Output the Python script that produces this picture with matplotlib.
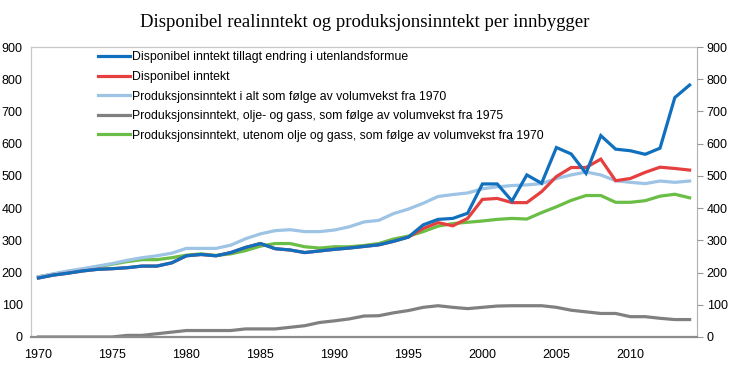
import matplotlib.pyplot as plt
import numpy as np

# years on the x axis
years = list(range(1970, 2015))

# Disponibel inntekt
disp = [183, 192, 198, 205, 210, 212, 215, 220, 220, 230,
        252, 256, 252, 262, 278, 290, 274, 270, 262, 267,
        272, 276, 281, 286, 297, 310, 337, 355, 345, 368,
        427, 430, 417, 417, 451, 498, 526, 526, 552, 485,
        492, 511, 527, 523, 518]

# Disponibel inntekt tillagt endring i utenlandsformue (same as red before 1996)
disp_utl = disp[:26] + [348, 365, 368, 384,
                        475, 475, 422, 503, 477, 588, 568, 508, 625, 583,
                        578, 567, 586, 743, 782]

# Produksjonsinntekt i alt
prod_total = [187, 196, 205, 212, 220, 228, 238, 246, 252, 260,
              275, 275, 275, 285, 305, 320, 330, 333, 327, 327,
              332, 342, 357, 362, 383, 397, 415, 436, 442, 447,
              460, 466, 470, 472, 476, 492, 503, 512, 503, 485,
              480, 476, 484, 480, 484]

# Produksjonsinntekt, olje og gass
prod_olje = [0, 0, 0, 0, 0, 0, 5, 5, 10, 15,
             20, 20, 20, 20, 25, 25, 25, 30, 35, 45,
             50, 56, 65, 66, 75, 82, 92, 97, 92, 88,
             92, 96, 97, 97, 97, 92, 83, 78, 73, 73,
             63, 63, 58, 54, 54]

# Produksjonsinntekt, utenom olje og gass
prod_fastland = [187, 195, 203, 210, 218, 226, 234, 240, 240, 246,
                 254, 258, 253, 258, 268, 282, 290, 290, 280, 276,
                 280, 280, 284, 290, 304, 313, 327, 344, 352, 356,
                 360, 365, 368, 366, 386, 404, 424, 439, 439, 418,
                 418, 423, 437, 443, 432]

labels = ["Disponibel inntekt tillagt endring i utenlandsformue",
          "Disponibel inntekt",
          "Produksjonsinntekt i alt som følge av volumvekst fra 1970",
          "Produksjonsinntekt, olje- og gass, som følge av volumvekst fra 1975",
          "Produksjonsinntekt, utenom olje og gass, som følge av volumvekst fra 1970"]
colors = ["#1170BE", "#E5403F", "#9DC3E5", "#808080", "#6ABD45"]
series = [disp_utl, disp, prod_total, prod_olje, prod_fastland]

plt.rcParams['font.family'] = ['Liberation Sans', 'DejaVu Sans']

fig = plt.figure(figsize=(7.3, 3.74), dpi=100)
ax = fig.add_axes([0.0425, 0.099, 0.9123, 0.7753])

# draw in reverse so blue ends on top
for s, c, l in list(zip(series, colors, labels))[::-1]:
    ax.plot(years, s, color=c, lw=2.3, label=l, solid_joinstyle='miter')

ax.set_xlim(1969.5, 2014.5)
ax.set_ylim(0, 900)
ax.set_yticks(range(0, 901, 100))
ax.set_xticks(range(1970, 2011, 5))
ax.tick_params(axis='x', length=0, labelsize=9, pad=9)
ax.tick_params(axis='y', length=0, labelsize=9, pad=6)

# right hand axis with outward ticks and the same labels
ax2 = ax.twinx()
ax2.set_ylim(0, 900)
ax2.set_yticks(range(0, 901, 100))
ax2.tick_params(axis='y', direction='out', length=4, color='#999999',
                labelsize=9, pad=3)
for sp in ax2.spines.values():
    sp.set_visible(False)

ax.spines['left'].set_color('#c8c8c8')
ax.spines['top'].set_color('#c8c8c8')
ax.spines['right'].set_color('#b0b0b0')
ax.spines['bottom'].set_color('#8c8c8c')
ax.spines['bottom'].set_linewidth(1.6)
ax.spines['left'].set_linewidth(0.9)
ax.spines['top'].set_linewidth(0.9)

handles, labs = ax.get_legend_handles_labels()
ax.legend(handles[::-1], labs[::-1], loc='upper left', bbox_to_anchor=(0.09, 1.01),
          frameon=False, fontsize=8.8, handlelength=2.6, handletextpad=0.15,
          labelspacing=0.62, borderaxespad=0.2)

fig.suptitle("Disponibel realinntekt og produksjonsinntekt per innbygger",
             fontfamily='Liberation Serif', fontsize=13.5, y=0.962)

fig.savefig("out.png", dpi=100)
